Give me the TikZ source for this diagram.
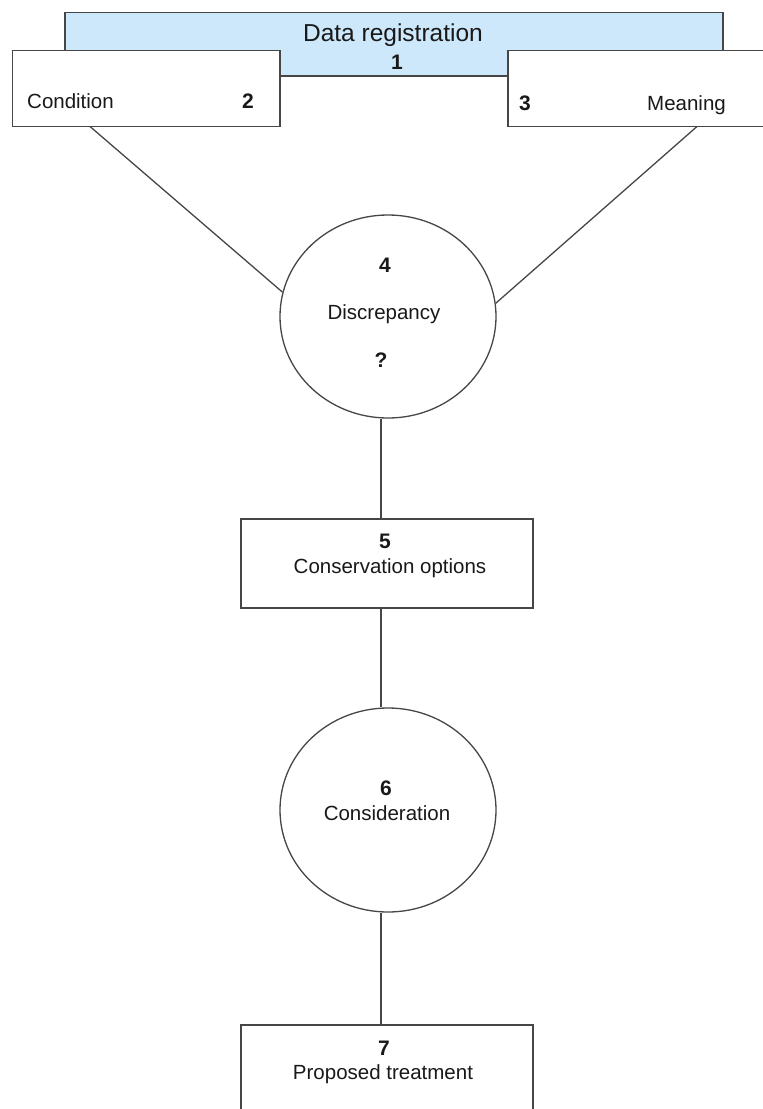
\documentclass[tikz,border=0pt]{standalone}
\usepackage{fontspec}
\setmainfont{Liberation Sans}
\usetikzlibrary{shapes.geometric}
\definecolor{regblue}{RGB}{205,232,250}
\definecolor{linegray}{RGB}{70,70,70}
\tikzset{
  box/.style={draw=linegray, line width=1.3pt, fill=white, inner sep=0pt},
  ring/.style={ellipse, draw=linegray, line width=1.3pt, fill=white, inner sep=0pt,
    minimum width=216pt, minimum height=203pt},
  txt/.style={anchor=base, inner sep=0pt, text=black!90, font=\fontsize{20.5}{24}\selectfont},
  num/.style={txt, font=\fontsize{21}{24}\selectfont\bfseries},
}
\begin{document}
\begin{tikzpicture}[x=1pt,y=-1pt]
      \useasboundingbox (0,0) rectangle (763,1109);
      \node[box, fill=regblue, minimum width=658pt, minimum height=63.5pt] (1) at (394,44.25) {};
      \node[box, minimum width=267.5pt, minimum height=76pt] (2) at (146.25,88.5) {};
      \node[box, minimum width=272pt, minimum height=76pt] (3) at (644,88.5) {};
      \node[ring] (4) at (388,316.5) {};
      \node[box, minimum width=292pt, minimum height=89pt] (5) at (387,563.5) {};
      \node[ring, minimum height=204pt] (6) at (388,810) {};
      \node[box, minimum width=292pt, minimum height=105pt] (7) at (387,1077.5) {};
      \coordinate (2s) at (90,126.5);
      \coordinate (3s) at (697,126.5);
      \begin{scope}[draw=linegray, line width=1.3pt]
        \draw (2s) to (4.167.5);
        \draw (3s) to (4.7);
        \draw ([xshift=-7pt]4.south) to ([xshift=-6pt]5.north);
        \draw ([xshift=-6pt]5.south) to ([xshift=-7pt]6.north);
        \draw ([xshift=-7pt]6.south) to ([xshift=-6pt]7.north);
      \end{scope}
      \node[txt, font=\fontsize{24.5}{28}\selectfont] (1a) at (393,41.7) {Data registration};
      \node[num] (1b) at (397,69) {1};
      \node[txt, anchor=base west] (2a) at (27,108) {Condition};
      \node[num] (2b) at (248,108) {2};
      \node[num] (3a) at (525,110) {3};
      \node[txt, anchor=base west] (3b) at (647,110) {Meaning};
      \node[num] (4a) at (385,272) {4};
      \node[txt] (4b) at (384,319) {Discrepancy};
      \node[num] (4c) at (381,367) {?};
      \node[num] (5a) at (385,548) {5};
      \node[txt] (5b) at (390,573) {Conservation options};
      \node[num] (6a) at (386,795) {6};
      \node[txt] (6b) at (387,820) {Consideration};
      \node[num] (7a) at (384,1055) {7};
      \node[txt] (7b) at (383,1079) {Proposed treatment};
    \end{tikzpicture}
\end{document}
